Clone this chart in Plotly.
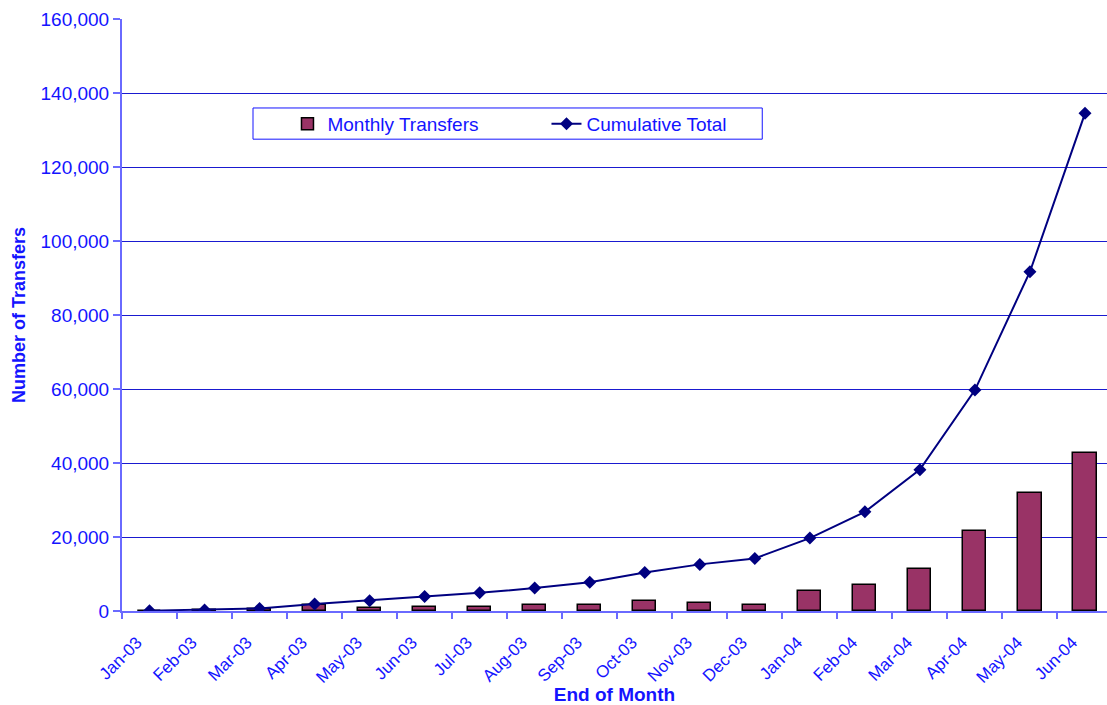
import plotly.graph_objects as go

months = ["Jan-03", "Feb-03", "Mar-03", "Apr-03", "May-03", "Jun-03", "Jul-03", "Aug-03",
          "Sep-03", "Oct-03", "Nov-03", "Dec-03", "Jan-04", "Feb-04", "Mar-04", "Apr-04",
          "May-04", "Jun-04"]
monthly_transfers = [100, 200, 600, 1500, 800, 1200, 1200, 1500, 1500, 2700, 2200, 1700,
                     5500, 7000, 11300, 21500, 32000, 42700]
cumulative_total = [100, 300, 700, 1900, 2800, 3900, 4900, 6200, 7800, 10400, 12600, 14200,
                    19700, 26800, 38200, 59700, 91700, 134500]
y_ticks = [0, 20000, 40000, 60000, 80000, 100000, 120000, 140000, 160000]

x_pos = [i + 0.5 for i in range(len(months))]

BLUE = "#1414ff"
AXIS = "#6a6aff"
GRID = "#1a1ad0"
FONT = "Liberation Sans, Arial, sans-serif"

fig = go.Figure()
fig.add_trace(go.Bar(
    x=x_pos, y=monthly_transfers, name="Monthly Transfers", width=0.42,
    marker=dict(color="#993366", line=dict(color="#000000", width=1.5)),
))
fig.add_trace(go.Scatter(
    x=x_pos, y=cumulative_total, name="Cumulative Total", mode="lines+markers",
    line=dict(color="#000080", width=2),
    marker=dict(symbol="diamond", size=10, color="#000080"),
))

fig.update_layout(
    width=1107, height=705,
    margin=dict(l=122, r=0, t=19, b=94),
    plot_bgcolor="white", paper_bgcolor="white",
    font=dict(family=FONT, color=BLUE, size=19),
    showlegend=True,
    legend=dict(
        orientation="h", x=0.168, y=0.8226, xanchor="left", yanchor="middle",
        borderwidth=0, bgcolor="rgba(0,0,0,0)",
        font=dict(size=19, color=BLUE), entrywidth=214, entrywidthmode="pixels",
        traceorder="normal",
    ),
    shapes=[dict(
        type="rect", xref="paper", yref="paper",
        x0=0.133, x1=0.650, y0=0.797, y1=0.8497,
        line=dict(color=BLUE, width=1), fillcolor="white", layer="below",
    )],
    bargap=0,
)
fig.update_xaxes(
    range=[0, 17.9], tickmode="array", tickvals=list(range(len(months))), ticktext=months,
    tickangle=-45, ticks="outside", ticklen=6, tickcolor=AXIS, tickwidth=1.5,
    ticklabelshift=15, ticklabelstandoff=7,
    showline=True, linecolor=AXIS, linewidth=2, showgrid=False, zeroline=False,
    tickfont=dict(size=17, color=BLUE),
    title=dict(text="<b>End of Month</b>", font=dict(size=19, color=BLUE), standoff=6),
)
fig.update_yaxes(
    range=[0, 160000], tickmode="array", tickvals=y_ticks, tickformat=",",
    ticks="outside", ticklen=7, tickcolor=AXIS, tickwidth=1.5,
    showline=True, linecolor=AXIS, linewidth=2,
    showgrid=True, gridcolor=GRID, gridwidth=1, zeroline=False,
    tickfont=dict(size=19, color=BLUE),
    title=dict(text="<b>Number of Transfers</b>", font=dict(size=18, color=BLUE), standoff=10),
)

fig.write_html("out.html")
